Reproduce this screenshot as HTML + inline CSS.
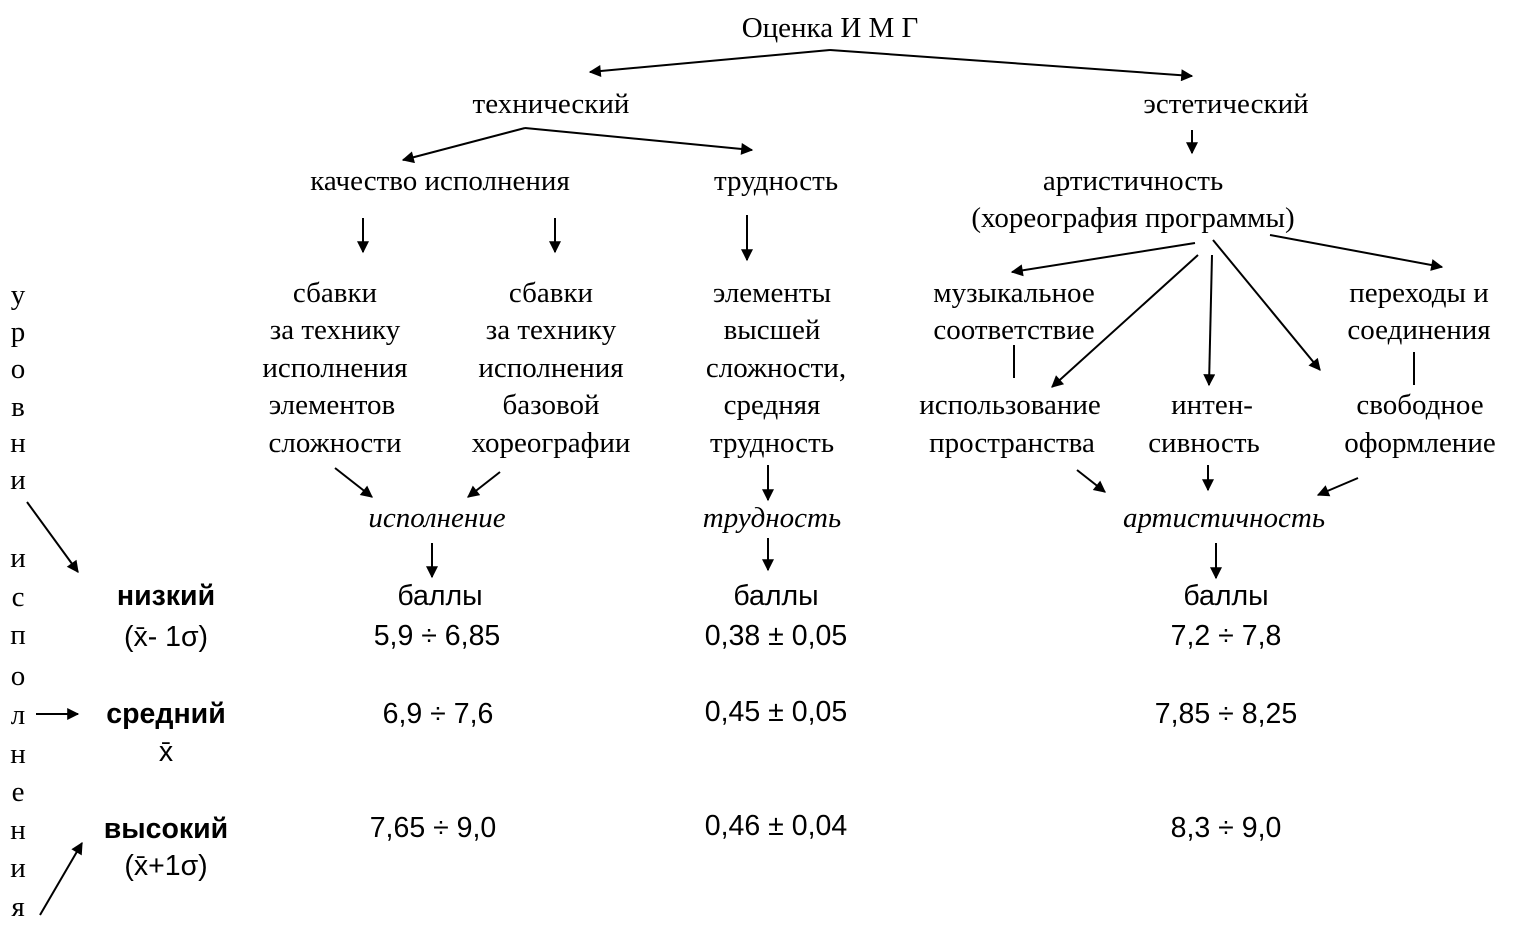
<!DOCTYPE html>
<html><head><meta charset="utf-8"><style>
html,body{margin:0;padding:0;background:#fff;}
svg{display:block;}
.s{font-family:"Liberation Serif","Noto Serif CJK SC",serif;font-size:29px;fill:#000;}
.i{font-style:italic;}
.a{font-family:"Liberation Sans","Noto Sans CJK SC",sans-serif;font-size:28.5px;fill:#000;}
.b{font-weight:bold;}
line{stroke:#000;stroke-width:2;}
</style></head><body>
<svg width="1516" height="925" viewBox="0 0 1516 925" xmlns="http://www.w3.org/2000/svg">
<defs>
<marker id="h" viewBox="0 0 10 10" refX="9" refY="5" markerWidth="14" markerHeight="12" orient="auto" markerUnits="userSpaceOnUse"><path d="M0,0 L10,5 L0,10 z" fill="#000"/></marker></defs>
<g class="s" text-anchor="middle" dominant-baseline="central">
<text x="830" y="28">Оценка И М Г</text>
<text x="551" y="104">технический</text>
<text x="1226" y="104">эстетический</text>
<text x="440" y="181">качество исполнения</text>
<text x="776" y="181">трудность</text>
<text x="1133" y="181">артистичность</text>
<text x="1133" y="218">(хореография программы)</text>
<text x="335" y="293">сбавки</text><text x="335" y="330">за технику</text><text x="335" y="368">исполнения</text><text x="332" y="405">элементов</text><text x="335" y="443">сложности</text>
<text x="551" y="293">сбавки</text><text x="551" y="330">за технику</text><text x="551" y="368">исполнения</text><text x="551" y="405">базовой</text><text x="551" y="443">хореографии</text>
<text x="772" y="293">элементы</text><text x="772" y="330">высшей</text><text x="776" y="368">сложности,</text><text x="772" y="405">средняя</text><text x="772" y="443">трудность</text>
<text x="1014" y="293">музыкальное</text><text x="1014" y="330">соответствие</text>
<text x="1010" y="405">использование</text><text x="1012" y="443">пространства</text>
<text x="1212" y="405">интен-</text><text x="1204" y="443">сивность</text>
<text x="1419" y="293">переходы и</text><text x="1419" y="330">соединения</text>
<text x="1420" y="405">свободное</text><text x="1420" y="443">оформление</text>
<text class="i" x="437" y="518">исполнение</text>
<text class="i" x="772" y="518">трудность</text>
<text class="i" x="1224" y="518">артистичность</text>
<text x="18" y="295">у</text><text x="18" y="332">р</text><text x="18" y="369">о</text><text x="18" y="407">в</text><text x="18" y="443">н</text><text x="18" y="480">и</text>
<text x="18" y="558">и</text><text x="18" y="597">с</text><text x="18" y="635">п</text><text x="18" y="676">о</text><text x="18" y="715">л</text><text x="18" y="754">н</text><text x="18" y="792">е</text><text x="18" y="830">н</text><text x="18" y="868">и</text><text x="18" y="907">я</text>
</g>
<g class="a" text-anchor="middle" dominant-baseline="central">
<text class="b" x="166" y="596">низкий</text>
<text x="166" y="637">(x̄- 1σ)</text>
<text class="b" x="166" y="714">средний</text>
<text x="166" y="752">x̄</text>
<text class="b" x="166" y="829">высокий</text>
<text x="166" y="866">(x̄+1σ)</text>
<text x="440" y="596">баллы</text><text x="776" y="596">баллы</text><text x="1226" y="596">баллы</text>
<text x="437" y="636">5,9 ÷ 6,85</text><text x="776" y="636">0,38 ± 0,05</text><text x="1226" y="636">7,2 ÷ 7,8</text>
<text x="438" y="714">6,9 ÷ 7,6</text><text x="776" y="712">0,45 ± 0,05</text><text x="1226" y="714">7,85 ÷ 8,25</text>
<text x="433" y="828">7,65 ÷ 9,0</text><text x="776" y="826">0,46 ± 0,04</text><text x="1226" y="828">8,3 ÷ 9,0</text>
</g>
<g marker-end="url(#h)">
<line x1="830" y1="50" x2="590" y2="72"/>
<line x1="830" y1="50" x2="1192" y2="76"/>
<line x1="525" y1="128" x2="403" y2="160"/>
<line x1="525" y1="128" x2="752" y2="150"/>
<line x1="1192" y1="130" x2="1192" y2="153"/>
<line x1="363" y1="218" x2="363" y2="252"/>
<line x1="555" y1="218" x2="555" y2="252"/>
<line x1="747" y1="215" x2="747" y2="260"/>
<line x1="1195" y1="243" x2="1012" y2="272"/>
<line x1="1198" y1="255" x2="1052" y2="387"/>
<line x1="1212" y1="255" x2="1209" y2="385"/>
<line x1="1213" y1="240" x2="1320" y2="370"/>
<line x1="1270" y1="235" x2="1442" y2="267"/>
<line x1="1077" y1="470" x2="1105" y2="492"/>
<line x1="1208" y1="465" x2="1208" y2="490"/>
<line x1="1358" y1="478" x2="1318" y2="495"/>
<line x1="335" y1="468" x2="372" y2="497"/>
<line x1="500" y1="472" x2="468" y2="497"/>
<line x1="768" y1="465" x2="768" y2="500"/>
<line x1="432" y1="543" x2="432" y2="577"/>
<line x1="768" y1="538" x2="768" y2="570"/>
<line x1="1216" y1="543" x2="1216" y2="578"/>
<line x1="27" y1="502" x2="78" y2="572"/>
<line x1="36" y1="714" x2="78" y2="714"/>
<line x1="40" y1="915" x2="82" y2="843"/>
</g>
<line x1="1014" y1="345" x2="1014" y2="378"/>
<line x1="1414" y1="352" x2="1414" y2="385"/>
</svg>
</body></html>
